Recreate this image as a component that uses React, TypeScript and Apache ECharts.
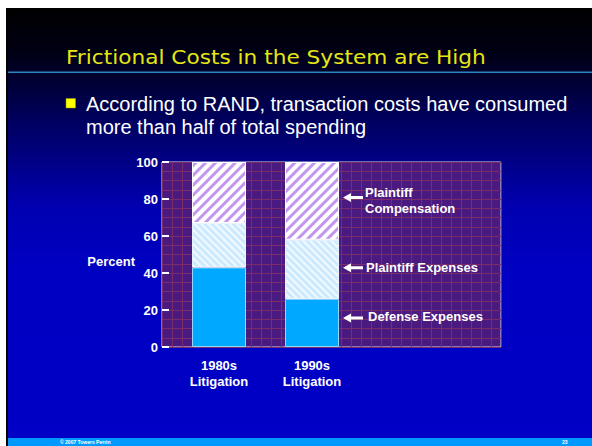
import React, { useEffect, useRef } from "react";
import * as echarts from "echarts";

const categories = ["1980s\nLitigation", "1990s\nLitigation"];
const defenseExpenses = [43, 26];
const plaintiffExpenses = [24, 32];
const plaintiffCompensation = [33, 42];
const yTicks = { min: 0, max: 100, interval: 20 };

const titleText = "Frictional Costs in the System are High";
const bulletText = "According to RAND, transaction costs have consumed\nmore than half of total spending";
const annotations = [
  { text: "Plaintiff\nCompensation", arrowY: 197.5, textX: 365, textY: 200.5 },
  { text: "Plaintiff Expenses", arrowY: 267.7, textX: 366, textY: 267.7 },
  { text: "Defense Expenses", arrowY: 318, textX: 368, textY: 316.7 },
];

const FONT = '"Liberation Sans", Arial, sans-serif';

function arrowPoints(x0: number, y: number) {
  return [
    [x0, y],
    [x0 + 8, y - 4.5],
    [x0 + 8, y - 1.5],
    [x0 + 20, y - 1.5],
    [x0 + 20, y + 1.5],
    [x0 + 8, y + 1.5],
    [x0 + 8, y + 4.5],
  ];
}

export default function App() {
  const ref = useRef<HTMLDivElement>(null);
  useEffect(() => {
    if (!ref.current) return;
    const chart = echarts.init(ref.current, null, { renderer: "svg" });
    const gridLine = "#7c2c68";
    const graphic: any[] = [
      {
        type: "rect", z: -10, silent: true,
        shape: { x: 6, y: 8, width: 586, height: 438 },
        style: {
          fill: {
            type: "linear", x: 0, y: 0, x2: 0, y2: 1,
            colorStops: [
              { offset: 0, color: "#000000" },
              { offset: 0.1, color: "#000014" },
              { offset: 0.25, color: "#00005c" },
              { offset: 0.45, color: "#0000b0" },
              { offset: 0.6, color: "#0000c2" },
              { offset: 1, color: "#0000c6" },
            ],
          },
        },
      },
      { type: "rect", z: -9, silent: true, shape: { x: 6, y: 8, width: 2, height: 438 }, style: { fill: "#000000" } },
      { type: "line", z: -9, silent: true, shape: { x1: 8, y1: 72.3, x2: 592, y2: 72.3 }, style: { stroke: "#2a86c0", lineWidth: 1.5 } },
      { type: "rect", z: -9, silent: true, shape: { x: 8, y: 438, width: 584, height: 8 }, style: { fill: "#0099ff" } },
      {
        type: "text", z: 10, x: 66, y: 57, scaleX: 1.14,
        style: { text: titleText, fill: "#e6e614", font: '19px "DejaVu Sans", Verdana, sans-serif', align: "left", verticalAlign: "middle" },
      },
      { type: "rect", z: 10, shape: { x: 66, y: 98.5, width: 9.5, height: 9.5 }, style: { fill: "#ffff00", stroke: "#9a9a00", lineWidth: 0.5 } },
      {
        type: "text", z: 10, x: 86, y: 115.5,
        style: { text: bulletText, fill: "#ffffff", font: "20px " + FONT, lineHeight: 23, align: "left", verticalAlign: "middle" },
      },
      {
        type: "text", z: 10, x: 60, y: 442,
        style: { text: "© 2007 Towers Perrin", fill: "#ffffff", font: "bold 5px " + FONT, align: "left", verticalAlign: "middle" },
      },
      {
        type: "text", z: 10, x: 562, y: 442,
        style: { text: "23", fill: "#ffffff", font: "bold 5px " + FONT, align: "left", verticalAlign: "middle" },
      },
    ];
    annotations.forEach((a) => {
      graphic.push({ type: "polygon", z: 10, shape: { points: arrowPoints(343, a.arrowY) }, style: { fill: "#ffffff" } });
      graphic.push({
        type: "text", z: 10, x: a.textX, y: a.textY,
        style: { text: a.text, fill: "#ffffff", font: "bold 13px " + FONT, lineHeight: 15.6, align: "left", verticalAlign: "middle" },
      });
    });

    const option: any = {
      animation: false,
      backgroundColor: "#ffffff",
      graphic,
      grid: [
        { left: 162, top: 162, width: 339, height: 185, show: true, backgroundColor: "#4a1a80", borderColor: "#d4d4ec", borderWidth: 1 },
        { left: 172.5, top: 162, width: 186, height: 185 },
      ],
      xAxis: [
        {
          type: "value", gridIndex: 0, min: 0, max: 34, interval: 1,
          axisLabel: { show: false }, axisTick: { show: false }, axisLine: { show: false },
          splitLine: { show: true, lineStyle: { color: gridLine, width: 1 } },
        },
        {
          type: "category", gridIndex: 1, data: categories,
          axisLine: { show: false }, axisTick: { show: false },
          axisLabel: { color: "#ffffff", fontWeight: "bold", fontSize: 13, fontFamily: FONT, lineHeight: 15.6, margin: 11 },
        },
      ],
      yAxis: [
        {
          type: "value", gridIndex: 0, min: yTicks.min, max: yTicks.max, interval: yTicks.interval,
          name: "Percent", nameLocation: "middle", nameRotate: 0, nameGap: 27, nameMoveOverlap: false,
          nameTextStyle: { color: "#ffffff", fontWeight: "bold", fontSize: 13, fontFamily: FONT, verticalAlign: "top" },
          axisLine: { show: false },
          axisTick: { show: true, inside: true, length: 7, lineStyle: { color: "#ffffff", width: 2 } },
          axisLabel: { color: "#ffffff", fontWeight: "bold", fontSize: 13, fontFamily: FONT, margin: 4 },
          splitLine: { show: true, lineStyle: { color: gridLine, width: 1 } },
          minorTick: { show: false, splitNumber: 4 },
          minorSplitLine: { show: true, lineStyle: { color: gridLine, width: 1 } },
        },
        { type: "value", gridIndex: 1, min: yTicks.min, max: yTicks.max, show: false },
      ],
      series: [
        {
          name: "Defense Expenses", type: "bar", stack: "total", xAxisIndex: 1, yAxisIndex: 1, barWidth: 54,
          data: defenseExpenses,
          itemStyle: { color: "#00a8ff", borderColor: "#8fd8ff", borderWidth: 1 },
        },
        {
          name: "Plaintiff Expenses", type: "bar", stack: "total", xAxisIndex: 1, yAxisIndex: 1, barWidth: 54,
          data: plaintiffExpenses,
          itemStyle: {
            color: "#cbe9ff", borderColor: "#e6f4ff", borderWidth: 1,
            decal: { symbol: "rect", color: "rgba(255,255,255,0.75)", dashArrayX: [1, 0], dashArrayY: [1.5, 2.5], rotation: Math.PI / 4 },
          },
        },
        {
          name: "Plaintiff Compensation", type: "bar", stack: "total", xAxisIndex: 1, yAxisIndex: 1, barWidth: 54,
          data: plaintiffCompensation,
          itemStyle: {
            color: "#ffffff", borderColor: "#ffffff", borderWidth: 1,
            decal: { symbol: "rect", color: "#c396f0", dashArrayX: [1, 0], dashArrayY: [3, 3.5], rotation: -Math.PI / 4 },
          },
        },
      ],
    };
    chart.setOption(option);
    return () => chart.dispose();
  }, []);
  return <div ref={ref} style={{ position: "absolute", left: 0, top: 0, width: 592, height: 446 }} />;
}
